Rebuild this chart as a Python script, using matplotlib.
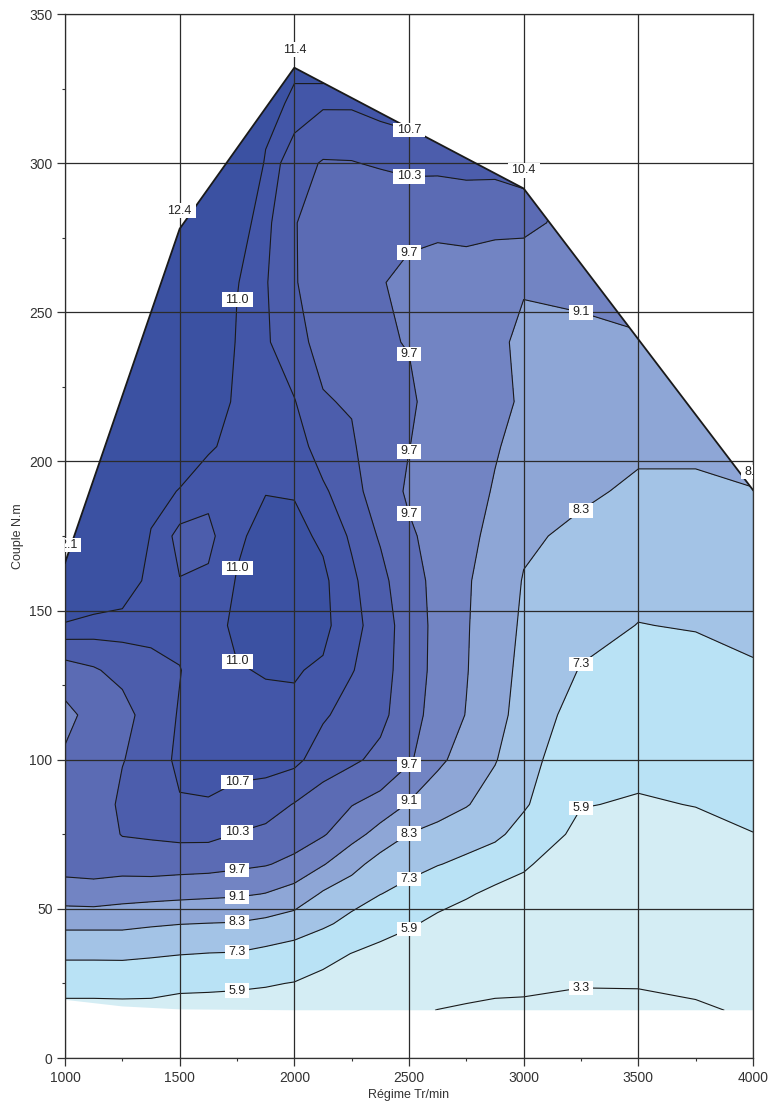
import numpy as np
import matplotlib
matplotlib.use("Agg")
import matplotlib.pyplot as plt
from matplotlib.patches import Polygon
from matplotlib.path import Path
from matplotlib.transforms import ScaledTranslation

plt.rcParams["font.family"] = ["Liberation Sans", "DejaVu Sans"]

# engine map grid: one list of values per rpm column
rpm = [1000, 1125, 1250, 1375, 1500, 1625, 1750, 1875, 2000, 2125, 2250,
       2375, 2500, 2625, 2750, 2875, 3000, 3250, 3500, 3750, 4000]
torque = [16, 25, 35, 45, 55, 65, 75, 85, 100, 115, 130, 145, 160, 175,
          190, 205, 220, 240, 260, 280, 300, 320, 340]

z_cols = [
    [5.5, 6.4, 7.55, 8.5, 9.5, 9.85, 9.95, 9.95, 9.8, 9.5, 10.1, 10.97, 11.4, 11.8, 12.1, 12.2, 12.3, 12.3, 12.3, 12.3, 12.3, 12.3, 12.3],
    [5.5, 6.4, 7.55, 8.5, 9.55, 9.85, 9.95, 10.0, 9.98, 9.95, 10.25, 10.9, 11.3, 11.7, 12.0, 12.2, 12.3, 12.3, 12.3, 12.3, 12.3, 12.3, 12.3],
    [5.5, 6.45, 7.55, 8.5, 9.4, 9.9, 10.33, 10.4, 10.28, 10.1, 10.45, 10.85, 11.25, 11.6, 11.9, 12.1, 12.3, 12.4, 12.4, 12.4, 12.4, 12.4, 12.4],
    [5.5, 6.4, 7.45, 8.4, 9.35, 9.95, 10.38, 10.45, 10.5, 10.55, 10.62, 10.78, 10.88, 10.97, 11.15, 11.4, 11.7, 12.0, 12.2, 12.3, 12.4, 12.4, 12.4],
    [5.4, 6.2, 7.35, 8.32, 9.3, 9.92, 10.45, 10.67, 10.78, 10.72, 10.69, 10.78, 10.71, 10.6, 10.98, 11.25, 11.55, 11.9, 12.2, 12.4, 12.4, 12.4, 12.4],
    [5.4, 6.15, 7.28, 8.28, 9.25, 9.9, 10.45, 10.68, 10.8, 10.85, 10.85, 10.84, 10.75, 10.62, 10.78, 11.05, 11.35, 11.7, 12.0, 12.2, 12.3, 12.3, 12.3],
    [5.35, 6.1, 7.25, 8.25, 9.2, 9.82, 10.28, 10.6, 10.8, 10.9, 10.98, 11.08, 11.02, 10.95, 10.9, 10.88, 10.9, 10.95, 11.02, 11.2, 11.4, 11.5, 11.5],
    [5.3, 6.0, 7.05, 8.1, 9.08, 9.74, 10.2, 10.48, 10.85, 10.92, 11.02, 11.12, 11.14, 11.1, 10.99, 10.92, 10.86, 10.75, 10.73, 10.8, 10.97, 11.1, 11.2],
    [5.1, 5.85, 6.85, 7.85, 8.85, 9.55, 9.98, 10.28, 10.8, 10.95, 11.02, 11.1, 11.12, 11.08, 10.98, 10.85, 10.72, 10.45, 10.33, 10.32, 10.45, 10.95, 11.1],
    [4.8, 5.55, 6.3, 7.5, 8.2, 9.15, 9.75, 10.1, 10.5, 10.75, 10.96, 11.08, 11.06, 10.95, 10.75, 10.55, 10.34, 10.15, 10.08, 10.12, 10.27, 10.75, 11.5],
    [4.5, 5.1, 5.88, 6.95, 7.8, 8.6, 9.35, 9.72, 10.4, 10.55, 10.72, 10.8, 10.77, 10.65, 10.5, 10.38, 10.25, 10.1, 10.02, 10.05, 10.28, 10.75, 11.0],
    [4.1, 4.8, 5.6, 6.35, 7.32, 7.95, 8.85, 9.5, 10.15, 10.45, 10.5, 10.55, 10.45, 10.25, 10.0, 9.88, 9.85, 9.75, 9.72, 9.85, 10.35, 10.85, 11.0],
    [3.5, 4.3, 5.2, 6.05, 6.95, 7.65, 8.28, 9.05, 9.78, 9.95, 10.05, 10.05, 9.95, 9.78, 9.62, 9.71, 9.78, 9.68, 9.62, 9.78, 10.45, 10.9, 11.0],
    [3.28, 3.9, 4.7, 5.6, 6.4, 7.35, 8.05, 8.65, 9.25, 9.45, 9.5, 9.52, 9.52, 9.5, 9.48, 9.48, 9.5, 9.52, 9.6, 9.75, 10.45, 10.9, 11.0],
    [3.2, 3.6, 4.3, 5.2, 6.05, 7.05, 7.8, 8.35, 8.8, 9.08, 9.13, 9.14, 9.15, 9.22, 9.35, 9.42, 9.45, 9.48, 9.55, 9.8, 10.5, 10.8, 10.9],
    [3.1, 3.55, 4.15, 4.85, 5.6, 6.6, 7.55, 7.95, 8.35, 8.6, 8.7, 8.8, 8.88, 8.97, 9.05, 9.15, 9.2, 9.15, 9.2, 9.9, 10.45, 10.7, 10.8],
    [3.1, 3.5, 4.1, 4.85, 5.5, 6.05, 6.85, 7.45, 7.75, 7.95, 8.05, 8.15, 8.25, 8.45, 8.7, 8.9, 9.05, 9.05, 9.12, 9.9, 10.6, 10.7, 10.8],
    [2.8, 3.4, 3.85, 4.3, 4.75, 5.15, 5.55, 5.95, 6.4, 6.85, 7.25, 7.6, 7.85, 8.1, 8.45, 8.7, 8.85, 9.0, 9.2, 9.4, 9.6, 9.8, 10.0],
    [2.9, 3.4, 3.85, 4.25, 4.65, 5.05, 5.45, 5.8, 6.2, 6.6, 6.95, 7.28, 7.55, 7.8, 8.15, 8.45, 8.7, 9.05, 9.3, 9.5, 9.7, 9.9, 10.1],
    [3.1, 3.6, 4.0, 4.4, 4.8, 5.2, 5.6, 5.93, 6.3, 6.65, 7.0, 7.35, 7.6, 7.85, 8.15, 8.45, 8.7, 9.0, 9.2, 9.4, 9.6, 9.8, 10.0],
    [3.5, 3.9, 4.3, 4.75, 5.15, 5.55, 5.88, 6.15, 6.55, 6.9, 7.2, 7.55, 7.8, 8.05, 8.28, 8.5, 8.7, 9.0, 9.2, 9.4, 9.6, 9.8, 10.0],
]

# full load curve and its point values, lowest measured torque
wot_rpm = [1000, 1500, 2000, 3000, 4000]
wot_torque = [166, 278, 332, 291.5, 190.4]
wot_labels = ["12.1", "12.4", "11.4", "10.4", "8.8"]
min_rpm = [1000, 1250, 1500, 2000, 4000]
min_torque = [19.5, 17.3, 16.3, 16.0, 16.0]

fill_levels = [0, 5.9, 7.3, 8.3, 9.1, 9.7, 10.3, 10.7, 11.0, 14]
line_levels = [3.3, 5.9, 7.3, 8.3, 9.1, 9.7, 10.3, 10.7, 11.0]
band_colors = ["#d4edf4", "#b9e2f5", "#a3c3e6", "#8ea6d6", "#7284c3",
               "#5b6bb4", "#4c5dac", "#4356a8", "#3b51a2"]
label_rpm = [1750, 2500, 3250]


def label_box(x0, y0, width, height, mutation_size):
    # wide, flat white box behind the labels
    px, py = 0.3 * mutation_size, 0.1 * mutation_size
    x0, y0 = x0 - px, y0 - py
    x1, y1 = x0 + width + 2 * px, y0 + height + 2 * py
    return Path([(x0, y0), (x1, y0), (x1, y1), (x0, y1), (x0, y0)], closed=True)


Z = np.array(z_cols).T

fig = plt.figure(figsize=(7.71, 11.04), dpi=100)
ax = fig.add_axes([65 / 771, 46 / 1104, 688 / 771, 1044 / 1104])

outline = list(zip(wot_rpm, wot_torque)) + list(zip(min_rpm, min_torque))[::-1]
clip = Polygon(outline, closed=True, facecolor="none", edgecolor="none")
ax.add_patch(clip)

cf = ax.contourf(rpm, torque, Z, levels=fill_levels, colors=band_colors)
cf.set_clip_path(clip)
cs = ax.contour(rpm, torque, Z, levels=line_levels, colors="#1a1a1a", linewidths=0.8)
cs.set_clip_path(clip)
ax.plot(wot_rpm, wot_torque, color="#1a1a1a", lw=1.3, zorder=3)

# contour labels where each line crosses the label columns
area = clip.get_path()
box = dict(boxstyle=label_box, fc="white", ec="none")
for lev, path in zip(cs.levels, cs.get_paths()):
    found = set()
    for seg in path.to_polygons(closed_only=False):
        for (x0, y0), (x1, y1) in zip(seg[:-1], seg[1:]):
            for c in label_rpm:
                if (x0 <= c < x1) or (x1 <= c < x0):
                    y = y0 + (c - x0) * (y1 - y0) / (x1 - x0)
                    key = (c, round(y, 1))
                    if key in found or not area.contains_point((c, y)):
                        continue
                    found.add(key)
                    ax.text(c, y, f"{lev:.1f}", ha="center", va="center",
                            fontsize=9, color="#222", bbox=box, zorder=6)

shift = ax.transData + ScaledTranslation(0, 13 / 72, fig.dpi_scale_trans)
for x, y, s in zip(wot_rpm, wot_torque, wot_labels):
    ax.text(x, y, s, transform=shift, ha="center", va="center", fontsize=9,
            color="#222", bbox=box, clip_on=True, zorder=6)

ax.set_xlim(1000, 4000)
ax.set_ylim(0, 350)
ax.set_xticks(range(1000, 4001, 500))
ax.set_yticks(range(0, 351, 50))
ax.set_xticks(range(1250, 4000, 500), minor=True)
ax.set_yticks(range(25, 350, 50), minor=True)
ax.tick_params(which="major", direction="out", length=6, width=0.9, color="#333",
               labelsize=10, labelcolor="#333", pad=3)
ax.tick_params(which="minor", direction="out", length=2.5, width=0.8, color="#333")
ax.grid(True, which="major", color="#2b2b2b", lw=0.9)
ax.set_axisbelow(False)
for sp in ax.spines.values():
    sp.set_color("#333")
    sp.set_linewidth(0.9)

ax.set_xlabel("Régime Tr/min", fontsize=9, color="#333")
ax.set_ylabel("Couple N.m", fontsize=9, color="#333")
ax.xaxis.set_label_coords(0.5, -(1095 - 1058) / 1044)
ax.xaxis.label.set_va("center")
ax.yaxis.set_label_coords(-(65 - 18) / 688, 0.5)
ax.yaxis.label.set_va("center")

fig.savefig("out.png", dpi=100)
